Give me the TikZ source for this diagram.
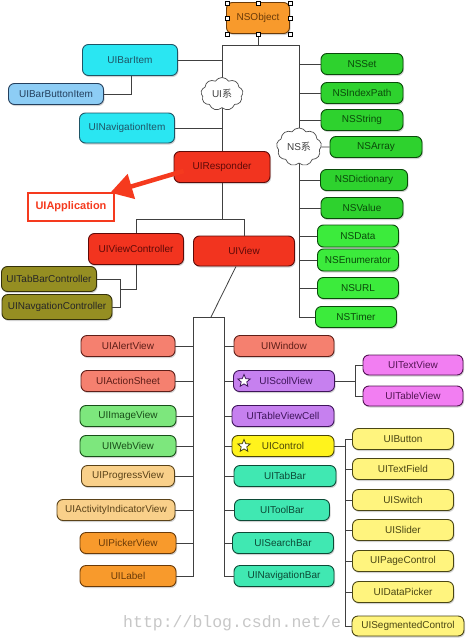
\documentclass[tikz,border=0pt]{standalone}
\usepackage{fontspec}
\setmainfont{Liberation Sans}
\newfontfamily\cjk{Noto Sans CJK SC}
\newfontfamily\wmfont{Liberation Mono}
\usetikzlibrary{shapes.geometric,shapes.symbols,shadows,arrows.meta,calc}
\definecolor{cOrange}{HTML}{F89A2C}\definecolor{bOrange}{HTML}{6A3A08}
\definecolor{cCyan}{HTML}{2AE6F2}\definecolor{bCyan}{HTML}{1E5566}
\definecolor{cLBlue}{HTML}{8DCDF5}\definecolor{bLBlue}{HTML}{24405E}
\definecolor{cRed}{HTML}{F2341F}\definecolor{bRed}{HTML}{5E0A08}
\definecolor{cOlive}{HTML}{958E22}\definecolor{bOlive}{HTML}{33300A}
\definecolor{cNS}{HTML}{2ED22E}\definecolor{cNSb}{HTML}{3CEB3C}\definecolor{bNS}{HTML}{0A4A0A}
\definecolor{cSalmon}{HTML}{F5806F}\definecolor{bSalmon}{HTML}{5E1E18}
\definecolor{cLGreen}{HTML}{7DE77D}\definecolor{bLGreen}{HTML}{184E18}
\definecolor{cLOrange}{HTML}{F9D08A}\definecolor{bLOrange}{HTML}{5A4218}
\definecolor{cPurple}{HTML}{C680EF}\definecolor{bPurple}{HTML}{3E145A}
\definecolor{cYellow}{HTML}{FFF31C}\definecolor{bYellow}{HTML}{4A4608}
\definecolor{cTeal}{HTML}{40E8B2}\definecolor{bTeal}{HTML}{0C4A36}
\definecolor{cMagenta}{HTML}{F27EF2}\definecolor{bMagenta}{HTML}{541454}
\definecolor{cLYellow}{HTML}{FFF47E}\definecolor{bLYellow}{HTML}{4A4614}
\definecolor{appRed}{HTML}{F53A1E}
\begin{document}
\begin{tikzpicture}[x=1pt,y=-1pt,
  box/.style={rounded corners=6pt, draw, line width=0.9pt, inner sep=0pt,
    minimum height=21pt, font=\fontsize{10}{12}\selectfont,
    drop shadow={shadow xshift=1pt,shadow yshift=-1.5pt,opacity=0.35}},
  paint/.style 2 args={fill=#1, draw=#2, text=#2},
  w/.style={minimum width=#1},
  h/.style={minimum height=#1},
  conn/.style={draw=black!75, line width=0.8pt},
  handle/.style={draw=black, fill=white, minimum size=4pt, inner sep=0pt, line width=0.5pt},
  cloudy/.style={cloud, cloud puffs=9, cloud puff arc=115, draw=black!70, fill=white,
    line width=0.7pt, inner sep=0pt, text=black!75, font=\fontsize{10}{12}\selectfont},
  starry/.style={star, star points=5, star point ratio=2.2, minimum size=13pt, inner sep=0pt,
    fill=white, line width=0.8pt},
]
\useasboundingbox (0,0) rectangle (466,640);
\fill[white] (0,0) rectangle (466,640);

% watermark
\node[anchor=base west, inner sep=0pt, text=black!22, font=\wmfont\fontsize{16.5}{18}\selectfont] (wm) at (123,627) {http://blog.csdn.net/e};

% coordinates of buses
\coordinate (tl) at (222,45);
\coordinate (tr) at (299,45);
\coordinate (rb) at (222,219);
\coordinate (vcb) at (120,289);
\coordinate (bxl) at (193,317);
\coordinate (bxr) at (224,317);
\coordinate (bxm) at (211,317);
\coordinate (sv) at (355,381);
\coordinate (cb) at (345,446);

% nodes
\node[box, paint={cOrange}{bOrange}, w=63pt, h=31pt] (nsobj) at (258,18) {NSObject};
\node[box, paint={cCyan}{bCyan}, w=95pt, h=31pt] (barit) at (130,60) {UIBarItem};
\node[box, paint={cLBlue}{bLBlue}, w=95pt] (barbtn) at (56,94) {UIBarButtonItem};
\node[box, paint={cCyan}{bCyan}, w=95pt, h=30pt] (navit) at (127,128) {UINavigationItem};
\node[box, paint={cRed}{bRed}, w=96pt, h=31pt] (resp) at (222,167) {UIResponder};
\node[draw=appRed, line width=2.6pt, fill=white, minimum width=86pt, minimum height=28pt, inner sep=0pt,
  text=appRed, font=\bfseries\fontsize{11}{13}\selectfont] (app) at (71,207) {UIApplication};
\node[box, paint={cRed}{bRed}, w=95pt, h=31pt] (vc) at (136,249) {UIViewController};
\node[box, paint={cRed}{bRed}, w=101pt, h=30pt] (view) at (244,251) {UIView};
\node[box, paint={cOlive}{bOlive}, text=black!85, w=95pt, h=25pt] (tabc) at (49,279) {UITabBarController};
\node[box, paint={cOlive}{bOlive}, text=black!85, w=110pt, h=25pt] (navc) at (57,307) {UINavgationController};

\node[box, paint={cNS}{bNS}, w=82pt] (nsset) at (362,64) {NSSet};
\node[box, paint={cNS}{bNS}, w=82pt] (nsidx) at (362,93) {NSIndexPath};
\node[box, paint={cNS}{bNS}, w=82pt] (nsstr) at (362,120) {NSString};
\node[box, paint={cNS}{bNS}, w=92pt] (nsarr) at (376,147) {NSArray};
\node[box, paint={cNS}{bNS}, w=87pt] (nsdict) at (364,180) {NSDictionary};
\node[box, paint={cNS}{bNS}, w=82pt] (nsval) at (362,208) {NSValue};
\node[box, paint={cNSb}{bNS}, w=81pt, h=22pt] (nsdata) at (358,236) {NSData};
\node[box, paint={cNSb}{bNS}, w=81pt, h=22pt] (nsenum) at (358,260) {NSEnumerator};
\node[box, paint={cNSb}{bNS}, w=81pt] (nsurl) at (358,288) {NSURL};
\node[box, paint={cNSb}{bNS}, w=81pt] (nstimer) at (356,317) {NSTimer};

\node[box, paint={cSalmon}{bSalmon}, w=94pt] (alert) at (128,346) {UIAlertView};
\node[box, paint={cSalmon}{bSalmon}, w=94pt] (action) at (128,381) {UIActionSheet};
\node[box, paint={cLGreen}{bLGreen}, w=96pt] (image) at (128,416) {UIImageView};
\node[box, paint={cLGreen}{bLGreen}, w=96pt] (web) at (128,446) {UIWebView};
\node[box, paint={cLOrange}{bLOrange}, w=93pt] (progress) at (128,476) {UIProgressView};
\node[box, paint={cLOrange}{bLOrange}, w=118pt] (activity) at (116,510) {UIActivityIndicatorView};
\node[box, paint={cOrange}{bOrange}, w=96pt] (picker) at (128,543) {UIPickerView};
\node[box, paint={cOrange}{bOrange}, w=96pt] (label) at (128,576) {UILabel};

\node[box, paint={cSalmon}{bSalmon}, w=100pt] (window) at (284,346) {UIWindow};
\node[box, paint={cPurple}{bPurple}, w=101pt] (scroll) at (284,381) {\hspace{4pt}UIScollView};
\node[box, paint={cPurple}{bPurple}, w=102pt] (cell) at (283,416) {UITableViewCell};
\node[box, paint={cYellow}{bYellow}, w=102pt] (ctrl) at (283,446) {UIControl};
\node[box, paint={cTeal}{bTeal}, w=102pt] (tabbar) at (285,476) {UITabBar};
\node[box, paint={cTeal}{bTeal}, w=95pt] (toolbar) at (282,510) {UIToolBar};
\node[box, paint={cTeal}{bTeal}, w=101pt] (search) at (283,543) {UISearchBar};
\node[box, paint={cTeal}{bTeal}, w=100pt] (navbar) at (284,576) {UINavigationBar};

\node[starry, draw=bPurple] (star1) at (244,381) {};
\node[starry, draw=bYellow] (star2) at (244,446) {};

\node[box, paint={cMagenta}{bMagenta}, w=100pt, h=20pt] (textv) at (413,365) {UITextView};
\node[box, paint={cMagenta}{bMagenta}, w=100pt, h=20pt] (tablev) at (413,396) {UITableView};

\node[box, paint={cLYellow}{bLYellow}, w=101pt] (btn) at (403,439) {UIButton};
\node[box, paint={cLYellow}{bLYellow}, w=101pt] (field) at (403,469) {UITextField};
\node[box, paint={cLYellow}{bLYellow}, w=101pt] (switch) at (403,500) {UISwitch};
\node[box, paint={cLYellow}{bLYellow}, w=101pt] (slider) at (403,530) {UISlider};
\node[box, paint={cLYellow}{bLYellow}, w=101pt] (page) at (403,561) {UIPageControl};
\node[box, paint={cLYellow}{bLYellow}, w=101pt] (datap) at (403,592) {UIDataPicker};
\node[box, paint={cLYellow}{bLYellow}, w=112pt, h=20pt] (seg) at (408,626) {UISegmentedControl};

% connectors (drawn behind nodes)
\begin{scope}[on background layer/.try]
\end{scope}
\draw[conn] (nsobj.south) -- (nsobj.south |- tl);
\draw[conn] (resp.north) -- (tl) -- (tr) -- (tr |- nstimer.west) -- (nstimer.west);
\draw[conn] (barit.east) -- (barit.east -| tl);
\draw[conn] (navit.east) -- (navit.east -| tl);
\draw[conn] ([xshift=1pt]barit.south) |- (barbtn.east);
\foreach \n in {nsset,nsidx,nsstr,nsdict,nsval,nsdata,nsenum,nsurl}
  \draw[conn] (tr |- \n.west) -- (\n.west);
\draw[conn] (resp.south) -- (rb);
\draw[conn] (vc.north) -- (vc.north |- rb) -- (view.north |- rb) -- (view.north);
\draw[conn] (vc.south) -- (vc.south |- vcb) -- (vcb);
\draw[conn] (tabc.east) -- (tabc.east -| vcb) -- (vcb |- navc.east) -- (navc.east);
\draw[conn] ([xshift=-8pt]view.south) -- (bxm);
\draw[conn] (label.east) -- (label.east -| bxl) -- (bxl) -- (bxr) -- (bxr |- navbar.west) -- (navbar.west);
\foreach \n in {alert,action,image,web,progress,activity,picker}
  \draw[conn] (\n.east) -- (\n.east -| bxl);
\foreach \n in {window,scroll,cell,ctrl,tabbar,toolbar,search}
  \draw[conn] (bxr |- \n.west) -- (\n.west);
\draw[conn] (scroll.east) -- (sv);
\draw[conn] (textv.west) -- (textv.west -| sv) -- (sv |- tablev.west) -- (tablev.west);
\draw[conn] (ctrl.east) -- (cb);
\draw[conn] (btn.west) -- (btn.west -| cb) -- (cb |- seg.west) -- (seg.west);
\foreach \n in {field,switch,slider,page,datap}
  \draw[conn] (cb |- \n.west) -- (\n.west);

% clouds
\node[cloudy, minimum width=42pt, minimum height=33pt] (uicl) at (222,94) {UI{\cjk 系}};
\node[cloudy, minimum width=45pt, minimum height=30pt] (nscl) at (299,147) {NS{\cjk 系}};
\draw[conn] (nscl.east) -- (nsarr.west);

% selection handles
\node[handle] (h1) at (227,3) {};
\node[handle] (h2) at (258,3) {};
\node[handle] (h3) at (290,3) {};
\node[handle] (h4) at (227,18) {};
\node[handle] (h5) at (290,18) {};
\node[handle] (h6) at (227,34) {};
\node[handle] (h7) at (258,34) {};
\node[handle] (h8) at (290,34) {};

% big red arrow
\draw[appRed, line width=4.5pt, -{Triangle[length=22pt,width=25pt]}]
  ([xshift=10pt,yshift=-4pt]resp.west) -- ([xshift=-5pt,yshift=-1pt]app.north east);
\end{tikzpicture}
\end{document}
